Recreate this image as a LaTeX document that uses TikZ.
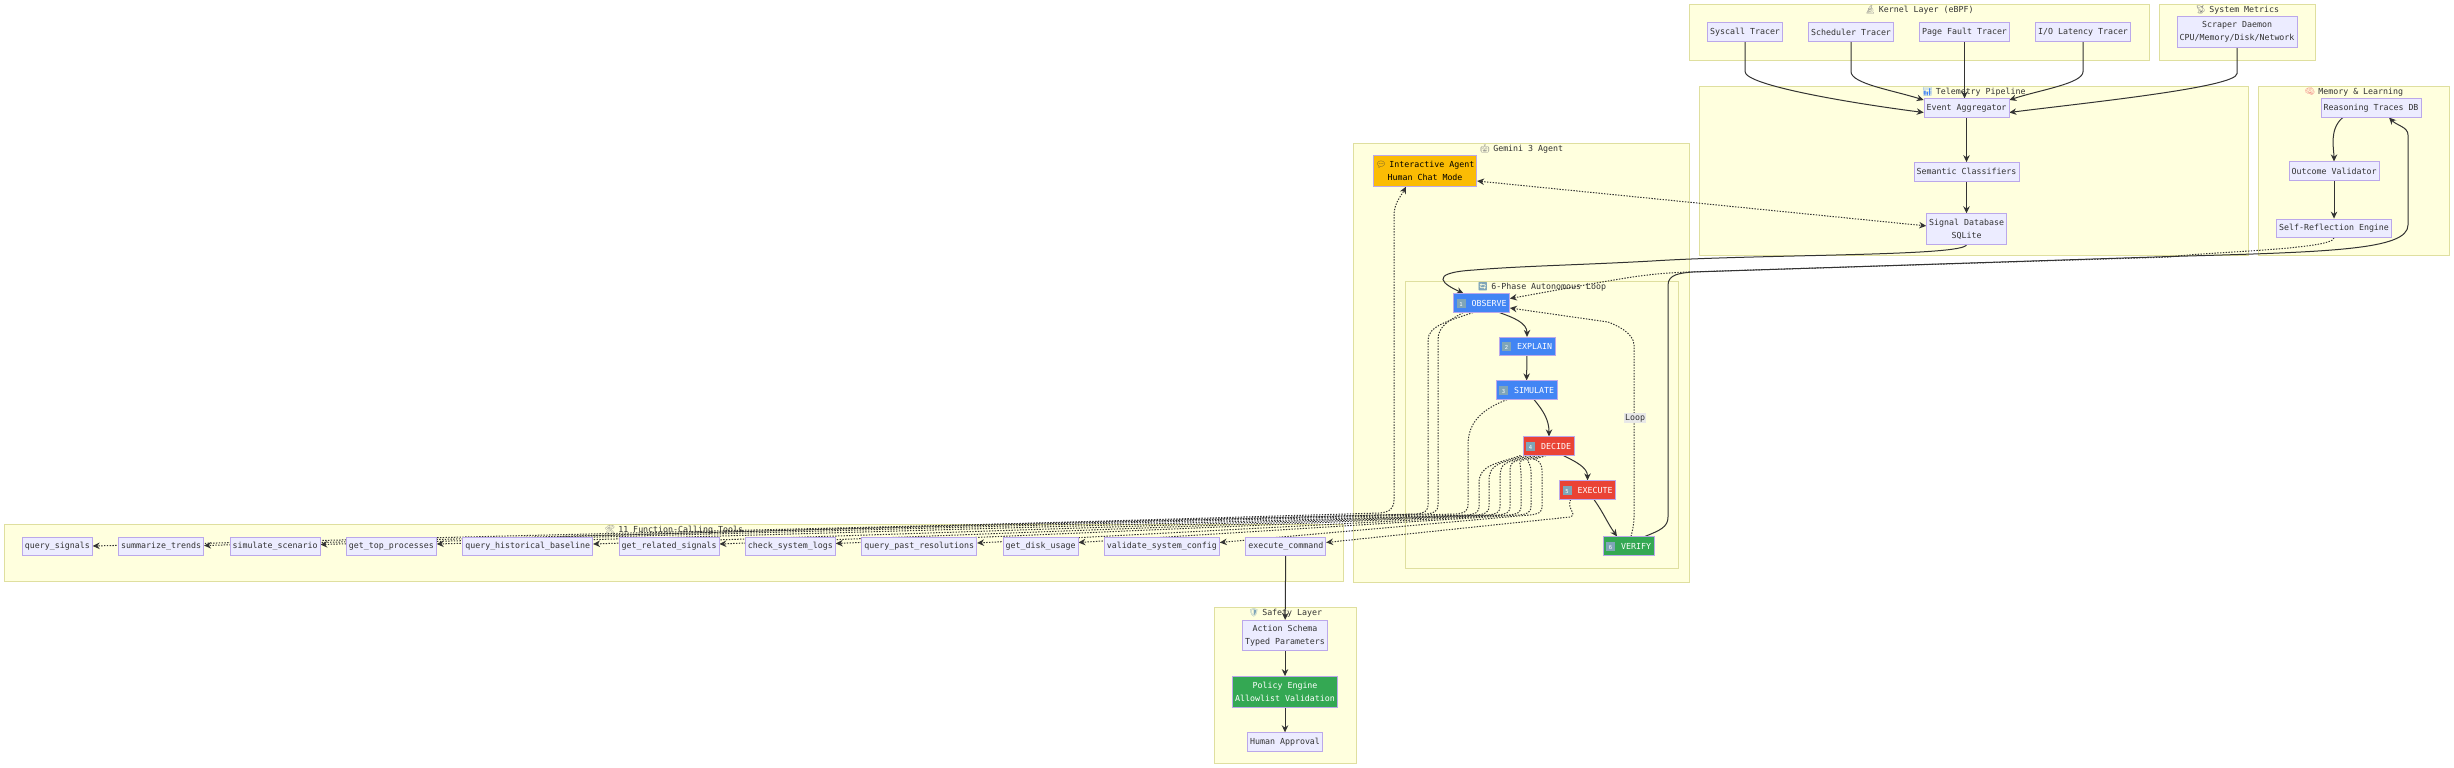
\documentclass[tikz,border=0pt]{standalone}
\usepackage{fontspec}
\usepackage{xcolor}
\setmainfont{DejaVu Sans Mono}
\newfontfamily\emojifont{Noto Emoji}
\usetikzlibrary{arrows.meta,positioning}
\definecolor{clusterfill}{HTML}{FFFFDE}
\definecolor{clusterline}{HTML}{DFDF9F}
\definecolor{nodefill}{HTML}{ECECFF}
\definecolor{nodeline}{HTML}{BBA8EA}
\definecolor{inktext}{HTML}{333333}
\definecolor{phaseblue}{HTML}{4285F4}
\definecolor{phasered}{HTML}{EA4335}
\definecolor{phasegreen}{HTML}{34A853}
\definecolor{amber}{HTML}{FBBC04}
\definecolor{keyblue}{HTML}{7FA5B8}
\newcommand{\icon}[2]{{\emojifont\textcolor{#1}{#2}}\hspace{3pt}}
\newcommand{\keycap}[1]{{\setlength{\fboxsep}{0pt}\colorbox{keyblue}{\makebox[9pt]{\rule[-1.5pt]{0pt}{9pt}\fontsize{5.5}{6}\selectfont\textcolor{white}{#1}}}}\hspace{6pt}}
\pgfdeclarelayer{clusters}
\pgfdeclarelayer{edges}
\pgfsetlayers{clusters,edges,main}
\begin{document}
\begin{tikzpicture}[
	x=1pt,y=-1pt,
	process/.style={
		rectangle,
		draw=nodeline,
		fill=nodefill,
		line width=0.7pt,
		minimum height=18.5pt,
		inner xsep=2.5pt,
		inner ysep=1pt,
		align=center,
		text=inktext,
		font=\fontsize{8.3}{13}\selectfont
	},
	twoline/.style={process, minimum height=30.5pt},
	phase/.style={process, text=white, inner xsep=3pt},
	cluster/.style={
		rectangle,
		draw=clusterline,
		fill=clusterfill,
		line width=0.9pt,
		anchor=north west,
		inner sep=0pt
	},
	clustertitle/.style={
		text=inktext,
		inner sep=0pt,
		font=\fontsize{8.3}{10}\selectfont
	},
	looplabel/.style={
		fill=gray!18,
		text=inktext,
		inner xsep=1pt,
		inner ysep=1.5pt,
		font=\fontsize{8.3}{10}\selectfont
	},
	arrow/.style={
		-{Stealth[length=7pt,width=6.5pt]},
		line width=1pt,
		draw=inktext
	},
	dotarrow/.style={
		arrow,
		dash pattern=on 1.4pt off 1.4pt
	}
	]
	\useasboundingbox (0,0) rectangle (2454,768);
	% clusters
	\begin{pgfonlayer}{clusters}
		\foreach \cname/\cx/\cy/\cw/\ch/\ctitle in {
			kernel/1689/4/460/56/{\icon{gray}{🔬}Kernel Layer (eBPF)},
			metrics/2159/4/156/56/{\icon{gray}{📡}System Metrics},
			telemetry/1699/86/549/169/{\icon{phaseblue}{📊}Telemetry Pipeline},
			memory/2258/86/191/169/{\icon{phasered!60}{🧠}Memory \& Learning},
			gemini/1353/143/336/439/{\icon{gray}{🤖}Gemini 3 Agent},
			autoloop/1405/281/273/287/{\icon{keyblue}{🔄}6-Phase Autonomous Loop},
			toolset/4/524/1339/57/{\icon{gray}{🛠}11 Function-Calling Tools},
			safety/1214/607/142/156/{\icon{keyblue}{🛡}Safety Layer}}{
			\node[cluster, minimum width=\cw pt, minimum height=\ch pt] (\cname) at (\cx,\cy) {};
			\node[clustertitle, below=1.5pt of \cname.north] (\cname title) {\ctitle};
		}
	\end{pgfonlayer}
	
	% kernel and metrics
	\node[process] (syscall) at (1745,32) {Syscall Tracer};
	\node[process] (scheduler) at (1851,32) {Scheduler Tracer};
	\node[process] (pagefault) at (1964.5,32) {Page Fault Tracer};
	\node[process] (iolatency) at (2083,32) {I/O Latency Tracer};
	\node[twoline] (scraper) at (2237,32) {Scraper Daemon\\CPU/Memory/Disk/Network};
	
	% telemetry
	\node[process] (event) at (1966.5,108) {Event Aggregator};
	\node[process, below=44.5pt of event] (semantic) {Semantic Classifiers};
	\node[twoline, below=32pt of semantic] (signal) {Signal Database\\SQLite};
	
	% memory
	\node[process] (traces) at (2371,108) {Reasoning Traces DB};
	\node[process] (outcome) at (2334,171) {Outcome Validator};
	\node[process, below=38pt of outcome] (reflect) {Self-Reflection Engine};
	
	% agent and phases
	\node[twoline, fill=amber, text=black] (chat) at (1425,171) {\icon{black!75}{💬}Interactive Agent\\Human Chat Mode};
	\node[phase, fill=phaseblue] (observe) at (1481.5,303) {\keycap{1}OBSERVE};
	\node[phase, fill=phaseblue] (explain) at (1527,346.5) {\keycap{2}EXPLAIN};
	\node[phase, fill=phaseblue] (simulate) at (1526.5,390) {\keycap{3}SIMULATE};
	\node[phase, fill=phasered] (decide) at (1548.5,446) {\keycap{4}DECIDE};
	\node[phase, fill=phasered] (execute) at (1587.5,490) {\keycap{5}EXECUTE};
	\node[phase, fill=phasegreen] (verify) at (1628.5,546) {\keycap{6}VERIFY};
	\node[looplabel] (looptag) at (1635,418) {Loop};
	
	% tools
	\node[process, anchor=west] (qsignals) at (22,546.5) {query\_signals};
	\node[process, right=25.7pt of qsignals] (trends) {summarize\_trends};
	\node[process, right=25.7pt of trends] (scenario) {simulate\_scenario};
	\node[process, right=25.7pt of scenario] (topproc) {get\_top\_processes};
	\node[process, right=25.7pt of topproc] (baseline) {query\_historical\_baseline};
	\node[process, right=25.7pt of baseline] (related) {get\_related\_signals};
	\node[process, right=25.7pt of related] (syslogs) {check\_system\_logs};
	\node[process, right=25.7pt of syslogs] (resolutions) {query\_past\_resolutions};
	\node[process, right=25.7pt of resolutions] (diskuse) {get\_disk\_usage};
	\node[process, right=25.7pt of diskuse] (validcfg) {validate\_system\_config};
	\node[process, right=25.7pt of validcfg] (execcmd) {execute\_command};
	
	% safety
	\node[twoline] (schema) at (1285,635.5) {Action Schema\\Typed Parameters};
	\node[twoline, fill=phasegreen, text=white, below=25pt of schema] (policy) {Policy Engine\\Allowlist Validation};
	\node[process, below=25pt of policy] (approval) {Human Approval};
	
	% arrows
	\begin{pgfonlayer}{edges}
		\draw[arrow] (syscall.south) -- ++(0,30) .. controls +(0,14) and +(-70,-9) .. ([yshift=-4.5pt]event.west);
		\draw[arrow] (scheduler.south) -- ++(0,30) .. controls +(0,12) and +(-32,-10) .. ([yshift=8pt]event.west);
		\draw[arrow] (pagefault.south) -- ([xshift=-2pt]event.north);
		\draw[arrow] (iolatency.south) -- ++(0,30) .. controls +(0,12) and +(30,-10) .. ([yshift=8pt]event.east);
		\draw[arrow] (scraper.south) -- ++(0,26) .. controls +(0,14) and +(70,-9) .. ([yshift=-4.5pt]event.east);
		\draw[arrow] (event) -- (semantic);
		\draw[arrow] (semantic) -- (signal);
		\draw[arrow] (signal.south) .. controls +(0,12) and +(110,-7) .. (1652,261) .. controls (1580,265) and (1520,266) .. (1474,270) .. controls (1425,273) and (1445,285) .. ([xshift=-18pt]observe.north);
		\draw[arrow] ([xshift=22pt]traces.south west) .. controls +(-14,12) and +(0,-12) .. (outcome.north);
		\draw[arrow] (outcome) -- (reflect);
		\draw[dotarrow] (reflect.south) .. controls +(0,12) and +(30,-5) .. (2170,257) -- (1688,272) .. controls (1640,274) and (1625,278) .. ([yshift=4.5pt]observe.east);
		\draw[arrow] ([xshift=16.5pt]verify.north) .. controls +(15,-6) and +(0,10) .. (1668,517) -- (1668,285) .. controls +(0,-11) and +(-12,1) .. (1693,272) -- (2170,256.5) .. controls (2330,252) and (2408,250) .. (2408,225) -- (2408,135) .. controls +(0,-8) and +(8,8) .. ([xshift=18pt]traces.south);
		\draw[{Stealth[length=7pt,width=6.5pt]}-{Stealth[length=7pt,width=6.5pt]}, line width=1pt, draw=inktext, dash pattern=on 1.4pt off 1.4pt] ([yshift=-10pt]chat.east) -- ([yshift=3pt]signal.west);
		\draw[arrow] ([xshift=18pt]observe.south) .. controls +(14,5) and +(0,-14) .. (explain.north);
		\draw[arrow] (explain) -- (simulate);
		\draw[arrow] ([xshift=7.5pt]simulate.south) .. controls +(10,12) and +(0,-16) .. ([xshift=0.5pt]decide.north);
		\draw[arrow] ([xshift=15pt]decide.south) .. controls +(12,6) and +(0,-13) .. (execute.north);
		\draw[arrow] ([xshift=6.5pt]execute.south) .. controls +(10,14) and +(-10,-14) .. ([xshift=-11.5pt]verify.north);
		\draw[dotarrow] ([xshift=2.5pt]verify.north) .. controls +(2,-8) and +(0,6) .. (1634,517) -- (1634,345) .. controls +(0,-12) and +(8,3) .. (1608,322) -- ([yshift=-5pt]observe.east);
		
		% dotted calls to the tools
		\foreach \toff/\lane/\ytop/\tool/\yoff in {
			-28/1479/483/topproc/2.5,
			-24/1489/481/baseline/2.5,
			-19.5/1500/479/related/2.5,
			-15/1510/477/syslogs/3,
			-11/1521/475/resolutions/3.5,
			-6.5/1531/473/diskuse/4,
			-2.5/1542/471/validcfg/4}{
			\draw[dotarrow] ([xshift=\toff pt]decide.south) .. controls +(-24,8) and +(0,-18) .. (\lane,\ytop) -- (\lane,506) .. controls +(0,7) and +(8,-1) .. (\lane-12,515) -- ([yshift=\yoff pt]\tool.east);
		}
		\draw[dotarrow] ([xshift=-8.5pt]observe.south) .. controls +(-24,8) and +(0,-14) .. (1428,340) -- (1428,504) .. controls +(0,8) and +(8,-1) .. (1416,514) -- ([yshift=0.5pt]qsignals.east);
		\draw[dotarrow] ([xshift=-18.5pt]observe.south) .. controls +(-14,8) and +(0,-14) .. (1438,340) -- (1438,504) .. controls +(0,8) and +(8,-1) .. (1426,514) -- ([yshift=1pt]trends.east);
		\draw[dotarrow] ([xshift=-19.5pt]simulate.south) .. controls +(-26,10) and +(0,-22) .. (1468,445) -- (1468,504) .. controls +(0,8) and +(8,-1) .. (1456,514) -- ([yshift=2pt]scenario.east);
		\draw[dotarrow] ([xshift=-17pt]execute.south) .. controls +(-4,10) and +(8,-3) .. (1570,517) -- ([yshift=4pt]execcmd.east);
		\draw[dotarrow] ([xshift=30pt]baseline.north) -- (1380,513) .. controls +(10,-1) and +(0,8) .. (1394,500) -- (1394,215) .. controls +(0,-12) and +(-4,8) .. ([xshift=-19pt]chat.south);
		
		\draw[arrow] (execcmd) -- (schema);
		\draw[arrow] (schema) -- (policy);
		\draw[arrow] (policy) -- (approval);
	\end{pgfonlayer}
\end{tikzpicture}
\end{document}
